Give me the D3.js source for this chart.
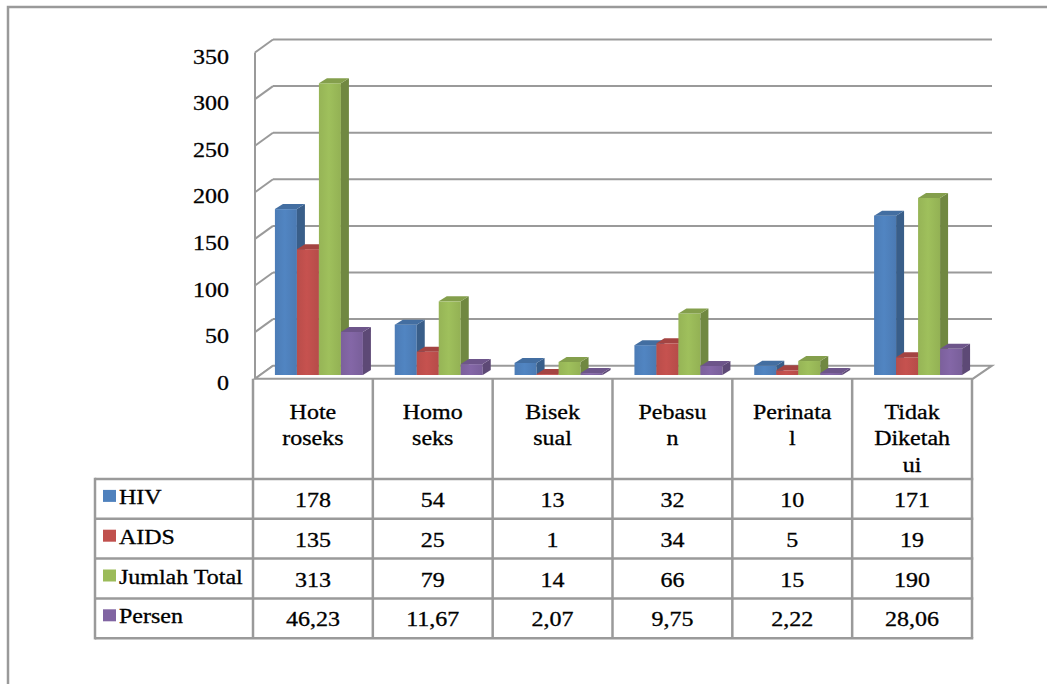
<!DOCTYPE html>
<html>
<head>
<meta charset="utf-8">
<script src="https://cdn.jsdelivr.net/npm/d3@7"></script>
<style>
  body { margin: 0; background: #fff; }
  svg { display: block; }
</style>
</head>
<body>
<svg id="chart" width="1047" height="684"></svg>
<script>
// data
var categories = [["Hote", "roseks"], ["Homo", "seks"], ["Bisek", "sual"], ["Pebasu", "n"], ["Perinata", "l"], ["Tidak", "Diketah", "ui"]];
var seriesNames = ["HIV", "AIDS", "Jumlah Total", "Persen"];
var hiv = [178, 54, 13, 32, 10, 171];
var aids = [135, 25, 1, 34, 5, 19];
var total = [313, 79, 14, 66, 15, 190];
var persen = [46.23, 11.67, 2.07, 9.75, 2.22, 28.06];
var persenLabels = ["46,23", "11,67", "2,07", "9,75", "2,22", "28,06"];
var yTicks = [0, 50, 100, 150, 200, 250, 300, 350];
var colors = ["#4F81BD", "#C0504D", "#9BBB59", "#8064A2"];

var series = [hiv, aids, total, persen];
var seriesText = [hiv.map(String), aids.map(String), total.map(String), persenLabels];

var svg = d3.select("#chart");
var grey = "#9a9a9a";
var sx = 1.17; // text in the picture is a bit stretched sideways

function label(g, x, y, str, anchor) {
  return g.append("text")
    .attr("transform", "translate(" + x + "," + (y + 7) + ") scale(" + sx + ",1)")
    .attr("text-anchor", anchor || "middle")
    .attr("font-family", "'Liberation Serif'")
    .attr("font-size", 20.5)
    .attr("fill", "#000")
    .attr("stroke", "#000")
    .attr("stroke-width", 0.3)
    .text(str);
}

// outer frame (top and left only)
svg.append("path")
  .attr("d", "M8,684 L8,7 L1047,7")
  .attr("fill", "none").attr("stroke", grey).attr("stroke-width", 2.5);

// layout
var tableLeft = 253, tableRight = 972, legendLeft = 95;
var floorFront = 378.7;
var wallDx = 19, wallDy = 13;
var barShiftX = 6, barShiftY = 3.7;
var barDx = 8, barDy = 5;

var x = d3.scaleBand().domain(d3.range(categories.length)).range([tableLeft, tableRight]).paddingInner(0);
var xs = d3.scaleBand().domain(d3.range(series.length)).range([0, 88]);
var yFront = d3.scaleLinear().domain([0, 350]).range([floorFront, floorFront - 326.2]);
var yBack = function(v) { return yFront(v) - wallDy; };
var yBar = function(v) { return yFront(v) - barShiftY; };

// front-face gradients
var defs = svg.append("defs");
colors.forEach(function(c, j) {
  var gr = defs.append("linearGradient").attr("id", "grad" + j)
    .attr("x1", "0").attr("x2", "1").attr("y1", "0").attr("y2", "0");
  gr.append("stop").attr("offset", "0").attr("stop-color", d3.color(c).darker(0.1));
  gr.append("stop").attr("offset", "0.45").attr("stop-color", d3.color(c).brighter(0.08));
  gr.append("stop").attr("offset", "1").attr("stop-color", d3.color(c).darker(0.15));
});

var g = svg.append("g");

// back wall gridlines + left wall diagonals
yTicks.forEach(function(t) {
  if (t > 0) {
    g.append("line")
      .attr("x1", 255 + wallDx - 1).attr("x2", 992)
      .attr("y1", yBack(t)).attr("y2", yBack(t))
      .attr("stroke", grey).attr("stroke-width", 2);
  }
  g.append("line")
    .attr("x1", 255).attr("y1", yFront(t))
    .attr("x2", 255 + wallDx - 1).attr("y2", yBack(t))
    .attr("stroke", grey).attr("stroke-width", 2);
  label(g, 229, yFront(t) + 4, String(t), "end");
});

// floor
g.append("path")
  .attr("d", "M255," + floorFront + " L" + (255 + wallDx - 1) + "," + yBack(0) +
    " L992," + yBack(0) + " L" + (tableRight + 1) + "," + floorFront + " Z")
  .attr("fill", "#fff").attr("stroke", grey).attr("stroke-width", 2);

// left wall front edge
g.append("line")
  .attr("x1", 255).attr("x2", 255)
  .attr("y1", yFront(350)).attr("y2", floorFront)
  .attr("stroke", grey).attr("stroke-width", 2);

// bars
var bars = g.append("g");
categories.forEach(function(c, i) {
  series.forEach(function(s, j) {
    var v = s[i];
    var x0 = x(i) + x.bandwidth() / 2 - 44 + barShiftX + xs(j);
    var w = xs.bandwidth();
    var yt = yBar(v), yb = yBar(0);
    var col = d3.color(colors[j]);
    // front
    bars.append("rect")
      .attr("x", x0).attr("y", yt)
      .attr("width", w).attr("height", yb - yt)
      .attr("fill", "url(#grad" + j + ")");
    // side
    bars.append("path")
      .attr("d", "M" + (x0 + w) + "," + yt + " L" + (x0 + w + barDx) + "," + (yt - barDy) +
        " L" + (x0 + w + barDx) + "," + (yb - barDy) + " L" + (x0 + w) + "," + yb + " Z")
      .attr("fill", col.darker(0.9));
    // top
    bars.append("path")
      .attr("d", "M" + x0 + "," + yt + " L" + (x0 + barDx) + "," + (yt - barDy) +
        " L" + (x0 + w + barDx) + "," + (yt - barDy) + " L" + (x0 + w) + "," + yt + " Z")
      .attr("fill", col.darker(0.45));
  });
});

// data table
var rowTop = 479, rowH = 39.8;
var rows = d3.scaleBand().domain(d3.range(series.length)).range([rowTop, rowTop + rowH * series.length]);
var tbl = svg.append("g");

// header labels
categories.forEach(function(c, i) {
  c.forEach(function(line, k) {
    label(tbl, x(i) + x.bandwidth() / 2, floorFront + 33 + k * 26.5, line);
  });
});

// row values + legend
series.forEach(function(s, j) {
  var cy = rows(j) + rows.bandwidth() / 2;
  tbl.append("rect")
    .attr("x", 103).attr("y", cy - 9)
    .attr("width", 13).attr("height", 12)
    .attr("fill", colors[j]);
  label(tbl, 119, cy - 2, seriesNames[j], "start");
  seriesText[j].forEach(function(t, i) {
    label(tbl, x(i) + x.bandwidth() / 2, cy + 1, t);
  });
});

// table lines
d3.range(categories.length + 1).forEach(function(i) {
  var xx = i < categories.length ? x(i) : tableRight;
  tbl.append("line")
    .attr("x1", xx).attr("x2", xx)
    .attr("y1", floorFront).attr("y2", rows(series.length - 1) + rows.bandwidth())
    .attr("stroke", grey).attr("stroke-width", 2.5);
});
d3.range(series.length + 1).forEach(function(j) {
  var yy = j < series.length ? rows(j) : rows(j - 1) + rows.bandwidth();
  tbl.append("line")
    .attr("x1", legendLeft).attr("x2", tableRight + 1.25)
    .attr("y1", yy).attr("y2", yy)
    .attr("stroke", grey).attr("stroke-width", 2.5);
});
tbl.append("line")
  .attr("x1", legendLeft).attr("x2", legendLeft)
  .attr("y1", rowTop - 1.25).attr("y2", rows(series.length - 1) + rows.bandwidth() + 1.25)
  .attr("stroke", grey).attr("stroke-width", 2.5);
</script>
</body>
</html>
